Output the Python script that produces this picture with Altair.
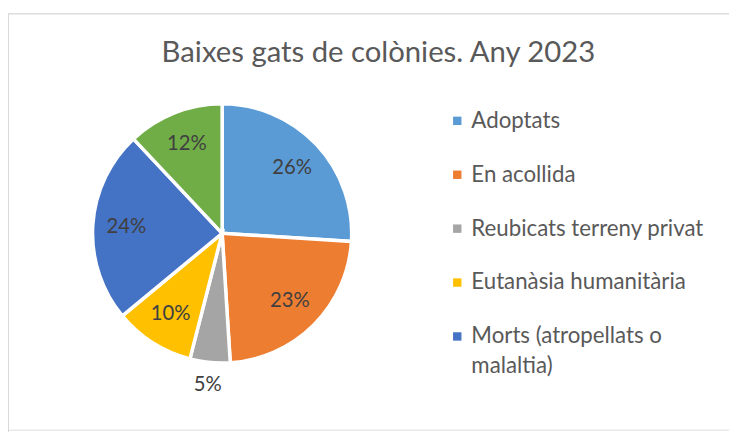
import altair as alt
import pandas as pd

# ---- data ----
categories = [
    "Adoptats",
    "En acollida",
    "Reubicats terreny privat",
    "Eutanàsia humanitària",
    "Morts (atropellats o malaltia)",
    "Altres",
]
percent = [26, 23, 5, 10, 24, 12]
colors = ["#5B9BD5", "#ED7D31", "#A5A5A5", "#FFC000", "#4472C4", "#70AD47"]
legend_shown = categories[:5]
title_text = "Baixes gats de colònies. Any 2023"

df = pd.DataFrame({"cat": categories, "pct": percent, "idx": list(range(len(categories)))})

# ---- layout ----
W, H = 729, 421
CX, CY = 216.5, 222.5
R = 131
FONT = "Lato"

pie = alt.Chart(df).mark_arc(radius=R, stroke="white", strokeWidth=3.5).encode(
    theta=alt.Theta("pct:Q", stack=True),
    order=alt.Order("idx:Q", sort="ascending"),
    x=alt.value(CX),
    y=alt.value(CY),
    color=alt.Color(
        "cat:N",
        title=None,
        sort=categories,
        scale=alt.Scale(domain=categories, range=colors),
        legend=alt.Legend(
            values=legend_shown,
            orient="none",
            legendX=443,
            legendY=97.5,
            symbolType="square",
            symbolSize=72,
            symbolStrokeWidth=0,
            labelFont=FONT,
            labelFontSize=22.5,
            labelColor="#595959",
            labelOffset=3,
            labelLimit=400,
            rowPadding=31.5,
            padding=0,
            labelExpr="datum.label == 'Morts (atropellats o malaltia)' ? ['Morts (atropellats o', 'malaltia)'] : datum.label",
        ),
    ),
)

labels = (
    alt.Chart(df)
    .transform_joinaggregate(total="sum(pct)")
    .transform_window(cum="sum(pct)", sort=[alt.SortField("idx", order="ascending")])
    .transform_calculate(
        mid="(datum.cum - datum.pct / 2) / datum.total",
        label="datum.pct + '%'",
        lr="datum.pct < 8 ? 154 : 97",
    )
    .mark_text(font=FONT, fontSize=20.5, color="#404040")
    .encode(
        theta=alt.Theta("mid:Q", stack=None, scale=alt.Scale(domain=[0, 1])),
        radius=alt.Radius("lr:Q", scale=None),
        x=alt.value(CX),
        y=alt.value(CY),
        text="label:N",
    )
)

title = alt.Chart(pd.DataFrame({"t": [title_text]})).mark_text(
    font=FONT, fontSize=29.6, color="#595959", baseline="alphabetic", align="center"
).encode(text="t:N", x=alt.value(374.5), y=alt.value(49.7))

frame = alt.Chart(pd.DataFrame({"f": [0]})).mark_rect(
    fillOpacity=0, stroke="#D9D9D9", strokeWidth=1
).encode(x=alt.value(0.5), y=alt.value(0.5), x2=alt.value(W + 40), y2=alt.value(H + 40))

chart = (
    alt.layer(frame, pie, labels, title)
    .resolve_scale(theta="independent")
    .properties(
        width=W,
        height=H,
        padding={"left": 0, "top": 3, "right": 0, "bottom": 0},
        autosize=alt.AutoSizeParams(type="none"),
    )
    .configure_view(strokeWidth=0)
    .configure(style={"guide-label": {"lineHeight": 30}})
)

chart.save("out.html", embed_options={"renderer": "svg", "actions": False})
